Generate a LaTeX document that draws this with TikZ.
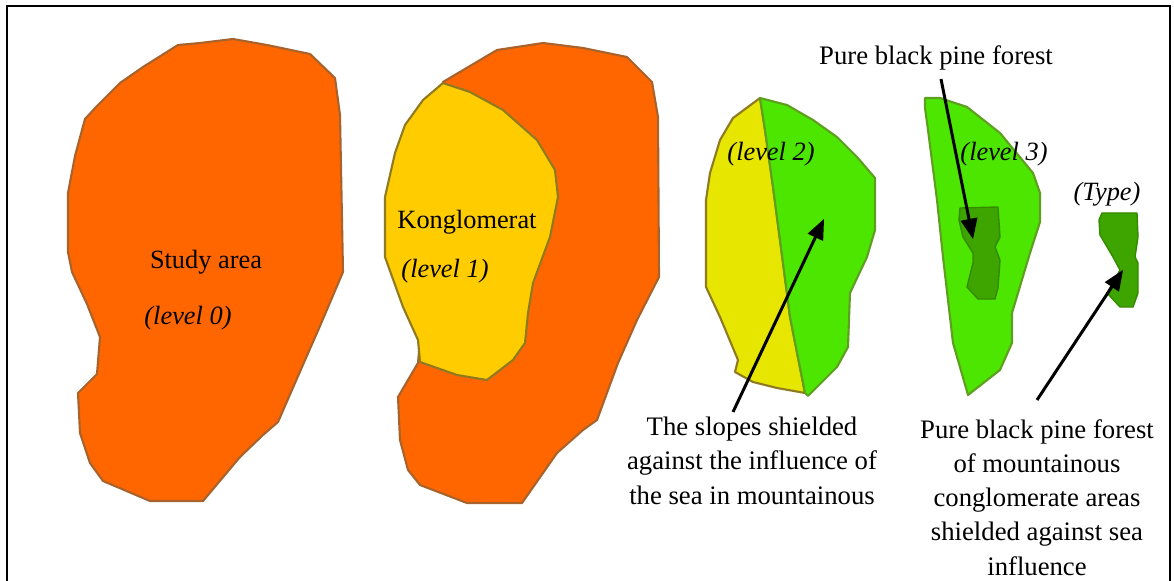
\documentclass[tikz,border=0pt]{standalone}
\usepackage{fontspec}
\setmainfont{Liberation Serif}
\usetikzlibrary{arrows}

\definecolor{areaorange}{HTML}{FF6600}
\definecolor{areaedge}{HTML}{A8622C}
\definecolor{konggold}{HTML}{FFCC00}
\definecolor{kongedge}{HTML}{8F7A20}
\definecolor{slopeyellow}{HTML}{E6E600}
\definecolor{slopegreen}{HTML}{4CE600}
\definecolor{greenedge}{HTML}{5F9F20}
\definecolor{typegreen}{HTML}{3DA400}

\tikzset{
  area/.style={fill=areaorange,draw=areaedge,line width=1.2pt,line join=round},
  kong/.style={fill=konggold,draw=kongedge,line width=1.2pt,line join=round},
  slope/.style={fill=slopeyellow,draw=kongedge,line width=1.2pt,line join=round},
  shield/.style={fill=slopegreen,draw=greenedge,line width=1.2pt,line join=round},
  pine/.style={fill=typegreen,draw=typegreen!85!black,line width=0.8pt,line join=round},
  lab/.style={font=\fontsize{15}{18}\selectfont,text=black,inner sep=0pt},
  lvl/.style={lab,font=\fontsize{15}{18}\selectfont\itshape},
  note/.style={font=\fontsize{15.2}{19.4}\selectfont,align=center,inner sep=0pt,text=black},
  pointer/.style={black,line width=1.7pt,-triangle 45}
}

\begin{document}
\begin{tikzpicture}[x=0.02cm,y=-0.02cm]
  \useasboundingbox (0,0) rectangle (1174,581);
  \fill[white] (0,0) rectangle (1174,581);
  \draw[black,line width=1.2pt] (7,581) -- (7,6) -- (1170,6) -- (1170,581);

  % level 0
  \draw[area] (233,39) -- (267,45) -- (310,54) -- (335,78) -- (340,115) -- (343,272) -- (320,326) -- (302,367)
    -- (278,422) -- (263,435) -- (240,457) -- (203,501) -- (150,501) -- (103,481) -- (90,463) -- (80,433)
    -- (78,393) -- (97,374) -- (100,337) -- (87,304) -- (72,272) -- (68,252) -- (68,193) -- (75,156)
    -- (85,119) -- (97,106) -- (120,83) -- (143,67) -- (178,45) -- (200,43) -- cycle;
  \node[lab] (study) at (206,262) {Study area};
  \node[lvl] (levelzero) at (188,318) {(level 0)};

  % level 1
  \draw[area] (443,82) -- (497,50) -- (543,43) -- (583,48) -- (627,57) -- (652,82) -- (658,117) -- (659,277)
    -- (637,320) -- (618,363) -- (597,420) -- (583,430) -- (557,453) -- (522,503) -- (467,503) -- (420,485)
    -- (408,470) -- (400,440) -- (398,397) -- (418,363) -- cycle;
  \draw[kong] (443,83) -- (470,92) -- (503,110) -- (537,140) -- (555,170) -- (558,197) -- (550,237) -- (533,283)
    -- (528,313) -- (525,343) -- (513,360) -- (487,380) -- (457,375) -- (420,362) -- (418,340) -- (403,307)
    -- (385,257) -- (385,197) -- (395,153) -- (405,125) -- (423,100) -- cycle;
  \node[lab] (kong) at (467,222) {Konglomerat};
  \node[lvl] (levelone) at (445,271) {(level 1)};

  % level 2
  \draw[slope] (760,98) -- (733,118) -- (720,140) -- (710,173) -- (706,200) -- (706,287) -- (720,317)
    -- (738,360) -- (735,372) -- (753,382) -- (777,388) -- (805,393) -- (790,317) -- (783,263) -- (773,187)
    -- (765,130) -- cycle;
  \draw[shield] (760,98) -- (787,105) -- (813,120) -- (837,137) -- (857,157) -- (875,178) -- (875,230)
    -- (867,257) -- (850,293) -- (848,347) -- (837,367) -- (808,396) -- (805,393) -- (790,317) -- (783,263)
    -- (773,187) -- (765,130) -- cycle;
  \node[lvl] (leveltwo) at (771,154) {(level 2)};

  % level 3
  \draw[shield] (925,98) -- (940,98) -- (967,107) -- (1000,133) -- (1033,173) -- (1040,193) -- (1040,222)
    -- (1030,253) -- (1012,313) -- (1012,343) -- (1000,370) -- (968,395) -- (953,343) -- (943,257) -- (937,200)
    -- (928,130) -- (925,108) -- cycle;
  \draw[pine] (960,208) -- (998,207) -- (1000,237) -- (995,247) -- (1000,260) -- (998,288) -- (995,299)
    -- (978,299) -- (967,287) -- (973,263) -- (973,253) -- (963,237) -- (959,220) -- cycle;
  \node[lvl] (levelthree) at (1004,154) {(level 3)};

  % type
  \draw[pine] (1102,213) -- (1137,213) -- (1138,237) -- (1135,257) -- (1138,263) -- (1138,293) -- (1133,307)
    -- (1120,307) -- (1107,293) -- (1120,270) -- (1113,257) -- (1100,235) -- (1099,220) -- cycle;
  \node[lvl] (leveltype) at (1107,194) {(Type)};

  % notes
  \node[note] (purenote) at (936,58) {Pure black pine forest};
  \node[note,anchor=north] (slopenote) at (752,417) {The slopes shielded\\against the influence of\\the sea in mountainous};
  \node[note,anchor=north,font=\fontsize{15.2}{19.5}\selectfont] (typenote) at (1037,419) {Pure black pine forest\\of mountainous\\conglomerate areas\\shielded against sea\\influence};

  \coordinate (slopefrom) at (733,412);
  \coordinate (slopeto) at (824,219);
  \coordinate (purefrom) at (941,79);
  \coordinate (pureto) at (973,239);
  \coordinate (typefrom) at (1037,400);
  \coordinate (typeto) at (1123,270);
  \draw[pointer] (slopefrom) -- (slopeto);
  \draw[pointer] (purefrom) -- (pureto);
  \draw[pointer] (typefrom) -- (typeto);
\end{tikzpicture}
\end{document}
